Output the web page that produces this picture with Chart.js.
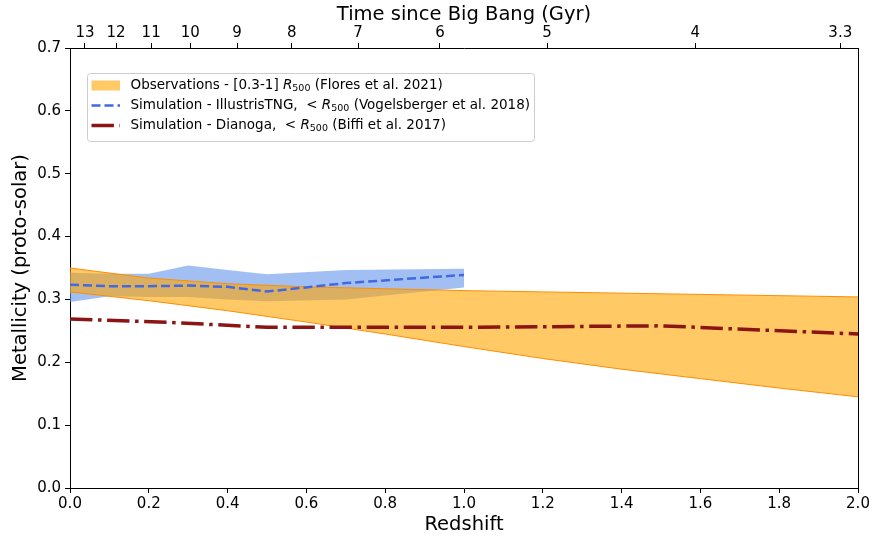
<!DOCTYPE html>
<html>
<head>
<meta charset="utf-8">
<script src="https://cdn.jsdelivr.net/npm/chart.js@4.4.1/dist/chart.umd.min.js"></script>
<style>
html,body{margin:0;padding:0;background:#fff;}
#wrap{width:872px;height:537px;position:relative;}
</style>
</head>
<body>
<div id="wrap"><canvas id="c" width="872" height="537"></canvas></div>
<script>
// ---- data ----
const zObs     = [0.0, 0.2, 0.4, 0.6, 0.8, 1.0, 1.2, 1.4, 1.6, 1.8, 2.0];
const obsLow   = [0.312, 0.298, 0.282, 0.264, 0.245, 0.225, 0.206, 0.189, 0.174, 0.159, 0.145];
const obsHigh  = [0.350, 0.334, 0.325, 0.320, 0.317, 0.314, 0.312, 0.310, 0.308, 0.306, 0.304];

const zTNG     = [0.0, 0.1, 0.2, 0.3, 0.4, 0.5, 0.7, 1.0];
const tngLow   = [0.296, 0.305, 0.304, 0.304, 0.300, 0.297, 0.300, 0.319];
const tngHigh  = [0.3425, 0.341, 0.341, 0.354, 0.347, 0.340, 0.347, 0.349];
const tngMed   = [0.3235, 0.321, 0.321, 0.322, 0.320, 0.3125, 0.326, 0.339];

const zDia     = [0.0, 0.25, 0.5, 1.0, 1.5, 2.0];
const dianoga  = [0.269, 0.2635, 0.2557, 0.2557, 0.258, 0.245];

const topAgeLabels = ['13', '12', '11', '10', '9', '8', '7', '6', '5', '4', '3.3'];
const topAgeZ      = [0.038, 0.117, 0.206, 0.305, 0.424, 0.563, 0.731, 0.939, 1.211, 1.587, 1.955];

const xTitle  = 'Redshift';
const yTitle  = 'Metallicity (proto-solar)';
const topTitle = 'Time since Big Bang (Gyr)';

// ---- helpers ----
const pts = (xs, ys) => xs.map((x, i) => ({x: x, y: ys[i]}));
const FONT = 'DejaVu Sans';
Chart.defaults.font.family = FONT;
Chart.defaults.color = '#000';

const legendItems = [
  {kind: 'patch', parts: [{t: 'Observations - [0.3-1] '}, {t: 'R', it: true}, {t: '500', sub: true}, {t: ' (Flores et al. 2021)'}]},
  {kind: 'dash', parts: [{t: 'Simulation - IllustrisTNG,  < '}, {t: 'R', it: true}, {t: '500', sub: true}, {t: ' (Vogelsberger et al. 2018)'}]},
  {kind: 'dashdot', parts: [{t: 'Simulation - Dianoga,  < '}, {t: 'R', it: true}, {t: '500', sub: true}, {t: ' (Biffi et al. 2017)'}]}
];

const framePlugin = {
  id: 'frame',
  afterDraw(chart) {
    const {ctx, chartArea: a} = chart;
    ctx.save();
    ctx.strokeStyle = '#000';
    ctx.lineWidth = 1;
    ctx.beginPath();
    ctx.moveTo(Math.round(a.right) + 0.5, a.top);
    ctx.lineTo(Math.round(a.right) + 0.5, a.bottom);
    ctx.stroke();

    // legend
    const lx = 87.5, ly = 73.5, lw = 447, lh = 68, r = 3;
    ctx.beginPath();
    ctx.moveTo(lx + r, ly);
    ctx.lineTo(lx + lw - r, ly);
    ctx.quadraticCurveTo(lx + lw, ly, lx + lw, ly + r);
    ctx.lineTo(lx + lw, ly + lh - r);
    ctx.quadraticCurveTo(lx + lw, ly + lh, lx + lw - r, ly + lh);
    ctx.lineTo(lx + r, ly + lh);
    ctx.quadraticCurveTo(lx, ly + lh, lx, ly + lh - r);
    ctx.lineTo(lx, ly + r);
    ctx.quadraticCurveTo(lx, ly, lx + r, ly);
    ctx.closePath();
    ctx.fillStyle = 'rgba(255,255,255,0.8)';
    ctx.fill();
    ctx.strokeStyle = '#cccccc';
    ctx.stroke();

    const rows = [85.5, 105.5, 125.5];
    legendItems.forEach((it, i) => {
      const y = rows[i];
      if (it.kind === 'patch') {
        ctx.fillStyle = 'rgba(255,165,0,0.6)';
        ctx.fillRect(91.5, y - 5, 28.5, 10);
      } else if (it.kind === 'dash') {
        ctx.strokeStyle = '#4169e1';
        ctx.lineWidth = 2.5;
        ctx.setLineDash([9, 4]);
        ctx.beginPath(); ctx.moveTo(91.5, y); ctx.lineTo(120, y); ctx.stroke();
        ctx.setLineDash([]);
      } else {
        ctx.strokeStyle = '#8b1414';
        ctx.lineWidth = 3.5;
        ctx.setLineDash([22.4, 5.6, 3.5, 5.6]);
        ctx.beginPath(); ctx.moveTo(91.5, y); ctx.lineTo(120, y); ctx.stroke();
        ctx.setLineDash([]);
      }
      let x = 130.5;
      ctx.fillStyle = '#000';
      ctx.textBaseline = 'middle';
      ctx.textAlign = 'left';
      it.parts.forEach(p => {
        if (p.sub) {
          ctx.font = '9.5px "' + FONT + '"';
          ctx.fillText(p.t, x, y + 3.5);
        } else {
          ctx.font = (p.it ? 'oblique ' : '') + '13.5px "' + FONT + '"';
          ctx.fillText(p.t, x, y);
        }
        x += ctx.measureText(p.t).width;
      });
    });
    ctx.restore();
  }
};

const tickFont = {family: FONT, size: 15};
const titleFont = {family: FONT, size: 19.5};

new Chart(document.getElementById('c'), {
  type: 'line',
  data: {
    datasets: [
      {data: pts(zTNG, tngLow), borderWidth: 0, borderColor: 'rgba(0,0,0,0)', pointRadius: 0, fill: false, order: 4},
      {data: pts(zTNG, tngHigh), borderWidth: 0, borderColor: 'rgba(0,0,0,0)', pointRadius: 0, fill: '-1', backgroundColor: 'rgba(100,149,237,0.6)', order: 4},
      {data: pts(zObs, obsLow), borderWidth: 1, borderColor: '#ff8c00', pointRadius: 0, fill: false, order: 3},
      {data: pts(zObs, obsHigh), borderWidth: 1, borderColor: '#ff8c00', pointRadius: 0, fill: '-1', backgroundColor: 'rgba(255,165,0,0.6)', order: 3},
      {data: pts(zTNG, tngMed), borderWidth: 2.5, borderColor: '#4169e1', borderDash: [9, 4], pointRadius: 0, fill: false, order: 1},
      {data: pts(zDia, dianoga), borderWidth: 3.5, borderColor: '#8b1414', borderDash: [22.4, 5.6, 3.5, 5.6], pointRadius: 0, fill: false, order: 0}
    ]
  },
  options: {
    responsive: false,
    animation: false,
    events: [],
    layout: {padding: {left: 0, right: 14, top: 0, bottom: 0}},
    plugins: {legend: {display: false}, tooltip: {enabled: false}},
    elements: {line: {tension: 0}},
    scales: {
      x: {
        type: 'linear', position: 'bottom', min: 0, max: 2,
        afterFit(s) { s.height = 49; },
        ticks: {stepSize: 0.2, font: tickFont, color: '#000', padding: 2, maxRotation: 0, autoSkip: false,
          callback: v => v.toFixed(1)},
        grid: {drawOnChartArea: false, drawTicks: true, tickLength: 5, color: '#000', tickWidth: 1},
        border: {display: true, color: '#000', width: 1},
        title: {display: true, text: xTitle, font: titleFont, color: '#000', padding: {top: 0, bottom: 0}}
      },
      x2: {
        type: 'linear', position: 'top', min: 0, max: 2,
        afterFit(s) { s.height = 48; },
        afterBuildTicks(axis) { axis.ticks = topAgeZ.map(v => ({value: v})); },
        ticks: {font: tickFont, color: '#000', padding: 1, maxRotation: 0, autoSkip: false,
          callback: (v, i) => topAgeLabels[i]},
        grid: {drawOnChartArea: false, drawTicks: true, tickLength: 5, color: '#000'},
        border: {display: true, color: '#000', width: 1},
        title: {display: true, text: topTitle, font: titleFont, color: '#000', padding: {top: 3, bottom: 0}}
      },
      y: {
        type: 'linear', position: 'left', min: 0, max: 0.7,
        afterFit(s) { s.width = 70; },
        ticks: {stepSize: 0.1, font: tickFont, color: '#000', padding: 4,
          callback: v => v.toFixed(1)},
        grid: {drawOnChartArea: false, drawTicks: true, tickLength: 5, color: '#000'},
        border: {display: true, color: '#000', width: 1},
        title: {display: true, text: yTitle, font: titleFont, color: '#000', padding: {top: 9, bottom: 0}}
      }
    }
  },
  plugins: [framePlugin]
});
</script>
</body>
</html>
